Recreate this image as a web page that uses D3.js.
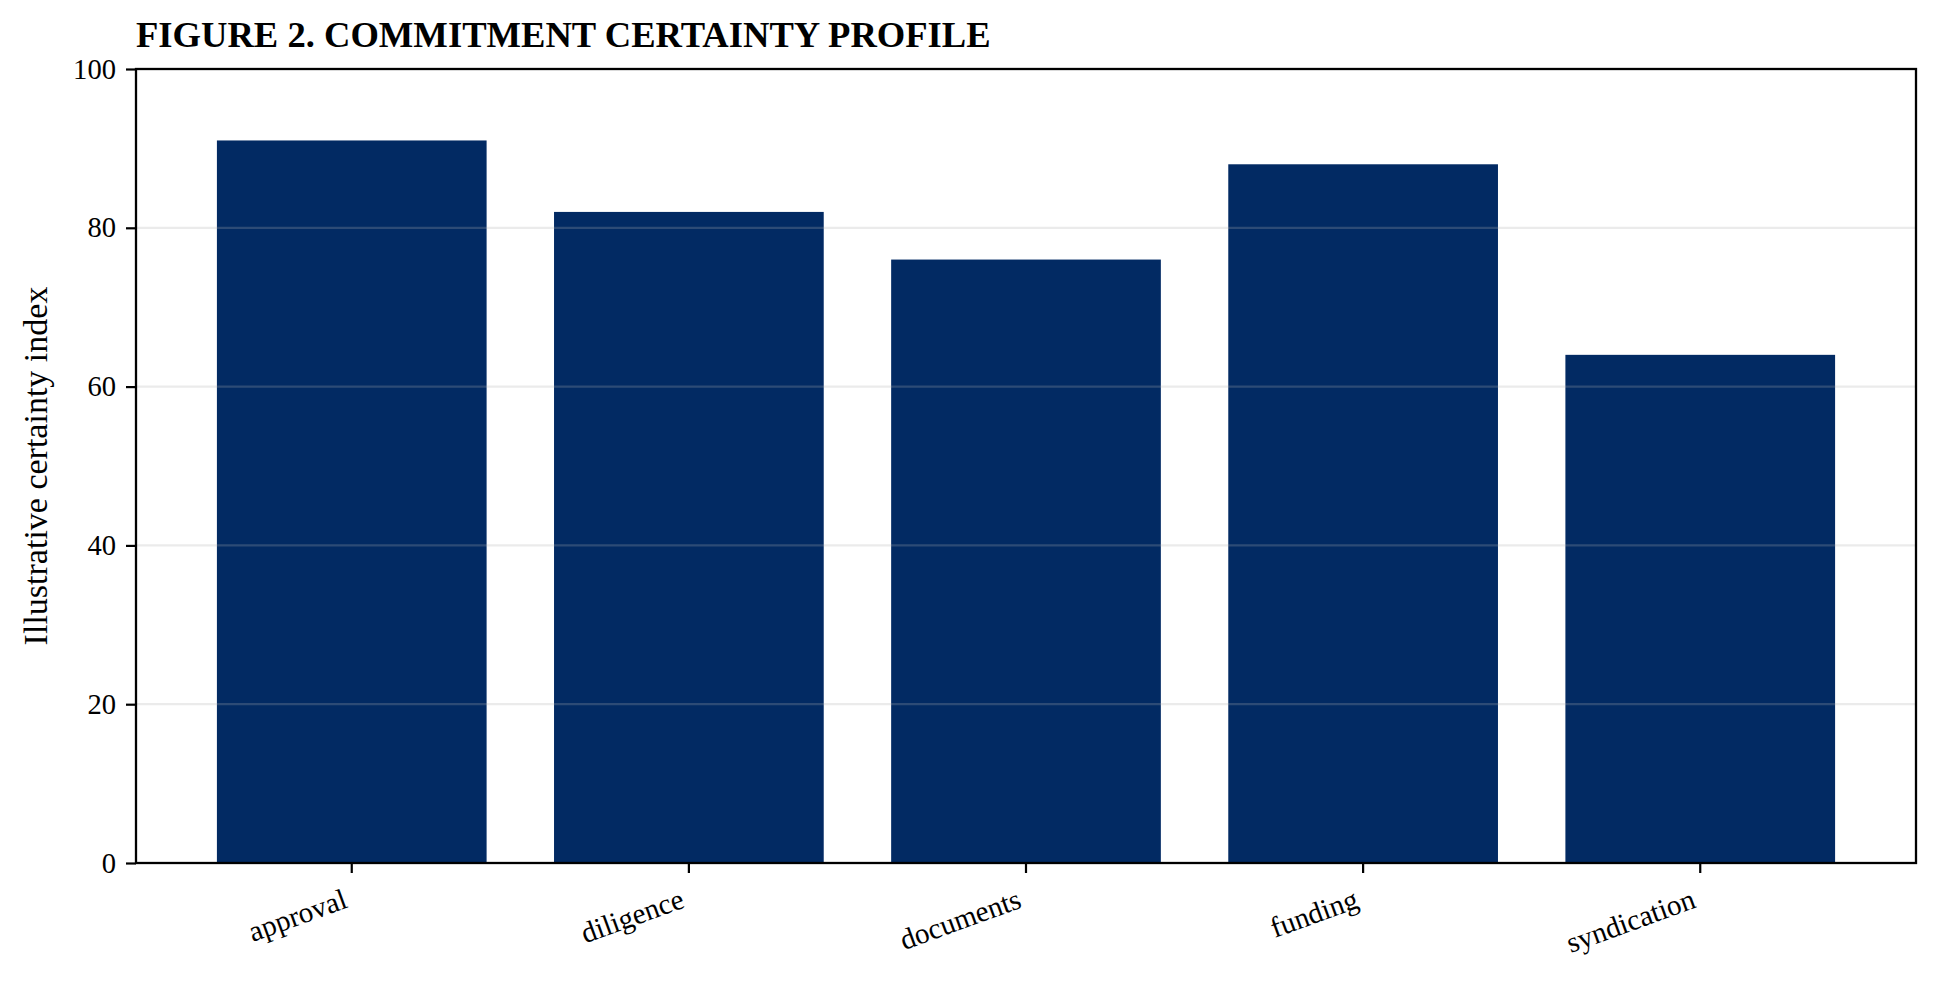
<!DOCTYPE html>
<html>
<head>
<meta charset="utf-8">
<script src="https://cdn.jsdelivr.net/npm/d3@7"></script>
<style>
  body { margin: 0; background: #fff; }
  text { font-family: "Liberation Serif", "Times New Roman", serif; fill: #000; }
</style>
</head>
<body>
<div id="chart"></div>
<script>
// Datos del gráfico
const categorias = ["approval", "diligence", "documents", "funding", "syndication"];
const valores = [91, 82, 76, 88, 64];
const ticksY = [0, 20, 40, 60, 80, 100];
const titulo = "FIGURE 2. COMMITMENT CERTAINTY PROFILE";
const etiquetaY = "Illustrative certainty index";

function dibujar() {
    const width = 1939, height = 983;
    const margin = { top: 69, right: 23, bottom: 120, left: 136 };

    const svg = d3.select("#chart").append("svg")
        .attr("width", width)
        .attr("height", height);

    svg.append("rect").attr("width", width).attr("height", height).attr("fill", "#fff");

    const x = d3.scaleBand()
        .domain(categorias)
        .range([margin.left, width - margin.right])
        .paddingInner(0.2)
        .paddingOuter(0.24);

    const y = d3.scaleLinear()
        .domain([0, 100])
        .range([height - margin.bottom, margin.top]);

    // barras
    svg.selectAll(".bar")
        .data(categorias)
        .enter()
        .append("rect")
        .attr("class", "bar")
        .attr("x", d => x(d))
        .attr("width", x.bandwidth())
        .attr("y", (d, i) => y(valores[i]))
        .attr("height", (d, i) => y(0) - y(valores[i]))
        .attr("fill", "#022a63");

    // rejilla (encima de las barras, como en el original)
    svg.selectAll(".grid")
        .data(ticksY.filter(t => t > 0 && t < 100))
        .enter()
        .append("line")
        .attr("x1", margin.left)
        .attr("x2", width - margin.right)
        .attr("y1", d => y(d))
        .attr("y2", d => y(d))
        .attr("stroke", "#b0b0b0")
        .attr("stroke-opacity", 0.25)
        .attr("stroke-width", 2.2);

    // eje Y
    const ejeY = svg.append("g")
        .attr("transform", `translate(${margin.left},0)`)
        .call(d3.axisLeft(y).tickValues(ticksY).tickSize(10).tickPadding(10));
    ejeY.select(".domain").remove();
    ejeY.selectAll("line").attr("stroke", "#000").attr("stroke-width", 2.2);
    ejeY.selectAll("text")
        .style("font-size", "28.6px")
        .style("font-family", "'Liberation Serif', serif");

    // eje X
    const ejeX = svg.append("g")
        .attr("transform", `translate(0,${y(0)})`)
        .call(d3.axisBottom(x).tickSize(10).tickFormat(""));
    ejeX.select(".domain").remove();
    ejeX.selectAll("line").attr("stroke", "#000").attr("stroke-width", 2.2);

    svg.selectAll(".xlabel")
        .data(categorias)
        .enter()
        .append("text")
        .attr("class", "xlabel")
        .attr("transform", d => `translate(${x(d) + x.bandwidth() / 2 - 3},${y(0) + 44}) rotate(-20)`)
        .attr("text-anchor", "end")
        .style("font-size", "29.2px")
        .text(d => d);

    // marco
    svg.append("rect")
        .attr("x", margin.left)
        .attr("y", margin.top)
        .attr("width", width - margin.right - margin.left)
        .attr("height", height - margin.bottom - margin.top)
        .attr("fill", "none")
        .attr("stroke", "#000")
        .attr("stroke-width", 2.3);

    // título
    svg.append("text")
        .attr("x", margin.left)
        .attr("y", 47)
        .style("font-size", "36.6px")
        .style("font-weight", "bold")
        .text(titulo);

    // etiqueta del eje Y
    svg.append("text")
        .attr("transform", `translate(47,${(margin.top + height - margin.bottom) / 2}) rotate(-90)`)
        .attr("text-anchor", "middle")
        .style("font-size", "34px")
        .text(etiquetaY);
}

dibujar();
</script>
</body>
</html>
